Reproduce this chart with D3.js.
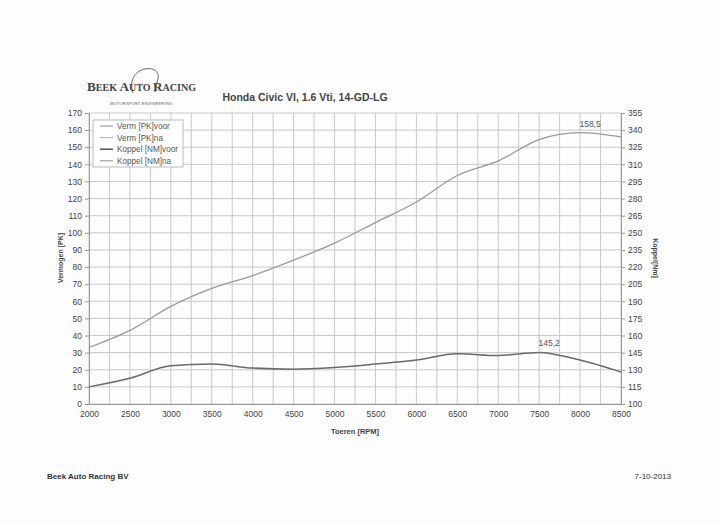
<!DOCTYPE html>
<html><head><meta charset="utf-8">
<script src="https://cdn.jsdelivr.net/npm/d3@7"></script>
<style>body{margin:0;background:#fff}svg{display:block}</style>
</head><body>
<script>
const rpm = [2000,2500,3000,3500,4000,4500,5000,5500,6000,6500,7000,7500,8000,8500];
const powerPK = [33,43,57,67.5,75,84,94,106,118,133.5,142,154.5,158.5,156];
const torqueNm = [115,122.5,133.5,135,131.5,130.5,132,135,138.5,144,142.5,145.2,138.5,128];
const xTicks = [2000,2500,3000,3500,4000,4500,5000,5500,6000,6500,7000,7500,8000,8500];
const leftTicks = d3.range(0,171,10);
const rightTicks = d3.range(100,356,15);
const legendLabels = ["Verm [PK]voor","Verm [PK]na","Koppel [NM]voor","Koppel [NM]na"];
const legendColors = ["#8a8a8a","#b0b0b0","#555","#8a8a8a"];
const annotations = [{x:8000, v:158.5, axis:"L", text:"158,5"},{x:7500, v:145.2, axis:"R", text:"145,2"}];

const W=720,H=524;
const svg=d3.select("body").append("svg").attr("width",W).attr("height",H).style("font-family","Liberation Sans, Arial, sans-serif");
svg.append("rect").attr("width",W).attr("height",H).attr("fill","#fdfdfd");
const x=d3.scaleLinear().domain([2000,8500]).range([89,621]);
const yL=d3.scaleLinear().domain([0,170]).range([404,113]);
const yR=d3.scaleLinear().domain([100,355]).range([404,113]);

// grid
const g=svg.append("g");
g.selectAll(".vg").data(d3.range(2000,8501,250)).enter().append("line")
 .attr("x1",d=>x(d)).attr("x2",d=>x(d)).attr("y1",yL(0)).attr("y2",yL(170)).attr("stroke","#c8c8c8").attr("stroke-width",1);
g.selectAll(".hg").data(leftTicks).enter().append("line")
 .attr("x1",x(2000)).attr("x2",x(8500)).attr("y1",d=>yL(d)).attr("y2",d=>yL(d)).attr("stroke","#c8c8c8").attr("stroke-width",1);

// axes
const axStyle=sel=>{sel.select(".domain").attr("stroke","#999");sel.selectAll(".tick line").attr("stroke","#999");sel.selectAll("text").attr("fill","#444").style("font-size","8.5px");};
svg.append("g").attr("transform",`translate(${x(2000)},0)`).call(d3.axisLeft(yL).tickValues(leftTicks).tickSize(4).tickPadding(3)).call(axStyle);
svg.append("g").attr("transform",`translate(${x(8500)},0)`).call(d3.axisRight(yR).tickValues(rightTicks).tickSize(4).tickPadding(3)).call(axStyle);
svg.append("g").attr("transform",`translate(0,${yL(0)})`).call(d3.axisBottom(x).tickValues(xTicks).tickSize(0).tickPadding(7).tickFormat(d3.format("d"))).call(axStyle);

// lines
const lineP=d3.line().x((d,i)=>x(rpm[i])).y(d=>yL(d)).curve(d3.curveMonotoneX);
const lineT=d3.line().x((d,i)=>x(rpm[i])).y(d=>yR(d)).curve(d3.curveMonotoneX);
svg.append("path").attr("d",lineP(powerPK)).attr("fill","none").attr("stroke","#9a9a9a").attr("stroke-width",1.3);
svg.append("path").attr("d",lineT(torqueNm)).attr("fill","none").attr("stroke","#6a6a6a").attr("stroke-width",1.5);

// annotations
annotations.forEach(a=>{
  const yy = a.axis==="L"?yL(a.v):yR(a.v);
  svg.append("text").attr("x",x(a.x)+10).attr("y",yy-6).attr("text-anchor","middle").style("font-size","8.5px").attr("fill","#555").text(a.text);
});

// legend
const lg=svg.append("g");
lg.append("rect").attr("x",93).attr("y",120).attr("width",90).attr("height",47).attr("fill","#fff").attr("stroke","#bbb");
legendLabels.forEach((l,i)=>{
  const yy=126+i*11.6;
  lg.append("line").attr("x1",100).attr("x2",113).attr("y1",yy).attr("y2",yy).attr("stroke",legendColors[i]).attr("stroke-width",i===2?1.5:1);
  lg.append("text").attr("x",117).attr("y",yy+3).style("font-size","8.2px").attr("fill","#555").text(l);
});

// titles
svg.append("text").attr("x",305).attr("y",101).attr("text-anchor","middle").style("font-size","10.5px").style("font-weight","bold").attr("fill","#444").text("Honda Civic VI, 1.6 Vti, 14-GD-LG");
svg.append("text").attr("transform","translate(63,258) rotate(-90)").attr("text-anchor","middle").style("font-size","7px").style("font-weight","bold").attr("fill","#444").text("Vermogen [PK]");
svg.append("text").attr("transform","translate(653,258) rotate(90)").attr("text-anchor","middle").style("font-size","7px").style("font-weight","bold").attr("fill","#444").text("Koppel[Nm]");
svg.append("text").attr("x",355).attr("y",434).attr("text-anchor","middle").style("font-size","7.5px").style("font-weight","bold").attr("fill","#444").text("Toeren [RPM]");

// logo
const logo=svg.append("g");
const lt=logo.append("text").attr("x",87).attr("y",91).style("font-family","Liberation Serif, DejaVu Serif, serif").style("font-weight","bold").attr("fill","#444").attr("textLength",109).attr("lengthAdjust","spacingAndGlyphs");
[["B","12.5px"],["EEK ","9.5px"],["A","12.5px"],["UTO ","9.5px"],["R","12.5px"],["ACING","9.5px"]].forEach(p=>lt.append("tspan").style("font-size",p[1]).text(p[0]));
logo.append("path").attr("d","M133,93 C129,82 134,71 145,69 C155,67 161,73 157,82 L155,92").attr("fill","none").attr("stroke","#555").attr("stroke-width",0.9);
logo.append("text").attr("x",141).attr("y",105).attr("text-anchor","middle").style("font-size","4.2px").attr("fill","#666").attr("textLength",62).text("MOTORSPORT ENGINEERING");

// footer
svg.append("text").attr("x",47).attr("y",479).style("font-size","8px").style("font-weight","bold").attr("fill","#333").text("Beek Auto Racing BV");
svg.append("text").attr("x",671).attr("y",479).attr("text-anchor","end").style("font-size","8px").attr("fill","#333").text("7-10-2013");
</script>
</body></html>
